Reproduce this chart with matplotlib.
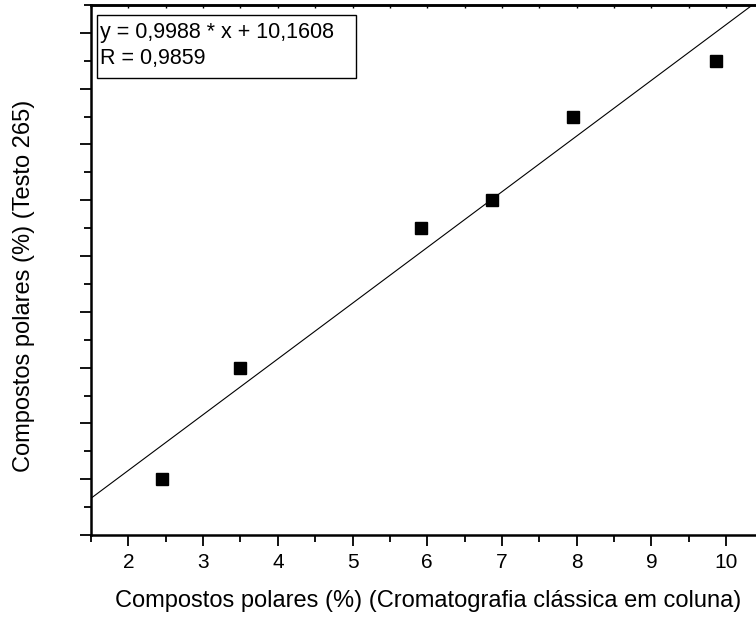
import numpy as np
import matplotlib
matplotlib.use("Agg")
import matplotlib.pyplot as plt
from matplotlib.patches import Rectangle
from matplotlib.ticker import MultipleLocator, NullFormatter

plt.rcParams['font.family'] = ['Liberation Sans', 'DejaVu Sans']

# polar compounds: column chromatography vs Testo 265 reading
x_coluna = [2.45, 3.50, 5.92, 6.87, 7.95, 9.86]
y_testo = [12.0, 14.0, 16.5, 17.0, 18.5, 19.5]

slope = 0.9988
intercept = 10.1608
r_value = 0.9859

fig = plt.figure(figsize=(7.56, 6.18), dpi=100)
ax = fig.add_axes([0.1204, 0.1343, 0.8796, 0.8576])

ax.plot(x_coluna, y_testo, 's', color='black', markersize=8, zorder=3)

xfit = np.array([1.5, 10.4])
ax.plot(xfit, slope * xfit + intercept, color='black', lw=0.8)

ax.set_xlim(1.5, 10.4)
ax.set_ylim(11, 20.5)

ax.xaxis.set_major_locator(MultipleLocator(1))
ax.xaxis.set_minor_locator(MultipleLocator(0.5))
ax.yaxis.set_major_locator(MultipleLocator(1))
ax.yaxis.set_minor_locator(MultipleLocator(0.5))
ax.yaxis.set_major_formatter(NullFormatter())

ax.tick_params(which='major', direction='out', length=8, width=1.3, labelsize=15)
ax.tick_params(which='minor', direction='out', length=5, width=1.3)
ax.tick_params(axis='x', pad=5)

# tiny inward ticks along the top frame
top = ax.secondary_xaxis('top')
top.xaxis.set_major_locator(MultipleLocator(0.5))
top.tick_params(direction='in', length=2, width=1, labeltop=False)
top.spines['top'].set_linewidth(1.8)

for side in ['left', 'bottom', 'top']:
    ax.spines[side].set_linewidth(1.8)
ax.spines['right'].set_visible(False)

ax.set_xlabel("Compostos polares (%) (Cromatografia clássica em coluna)", fontsize=17)
ax.set_ylabel("Compostos polares (%) (Testo 265)", fontsize=17)
ax.xaxis.set_label_coords(0.507, -0.104)
ax.yaxis.set_label_coords(-0.084, 0.47)

# equation box in the upper left corner
ax.add_patch(Rectangle((0.009, 0.862), 0.389, 0.119, transform=ax.transAxes,
                       facecolor='white', edgecolor='black', lw=1, zorder=4))
eq = "y = %s * x + %s\nR = %s" % (
    f"{slope:.4f}".replace('.', ','),
    f"{intercept:.4f}".replace('.', ','),
    f"{r_value:.4f}".replace('.', ','))
ax.text(0.013, 0.9236, eq, transform=ax.transAxes, fontsize=15.5, va='center', ha='left',
        linespacing=1.26, zorder=5)

fig.savefig("out.png", dpi=100)
